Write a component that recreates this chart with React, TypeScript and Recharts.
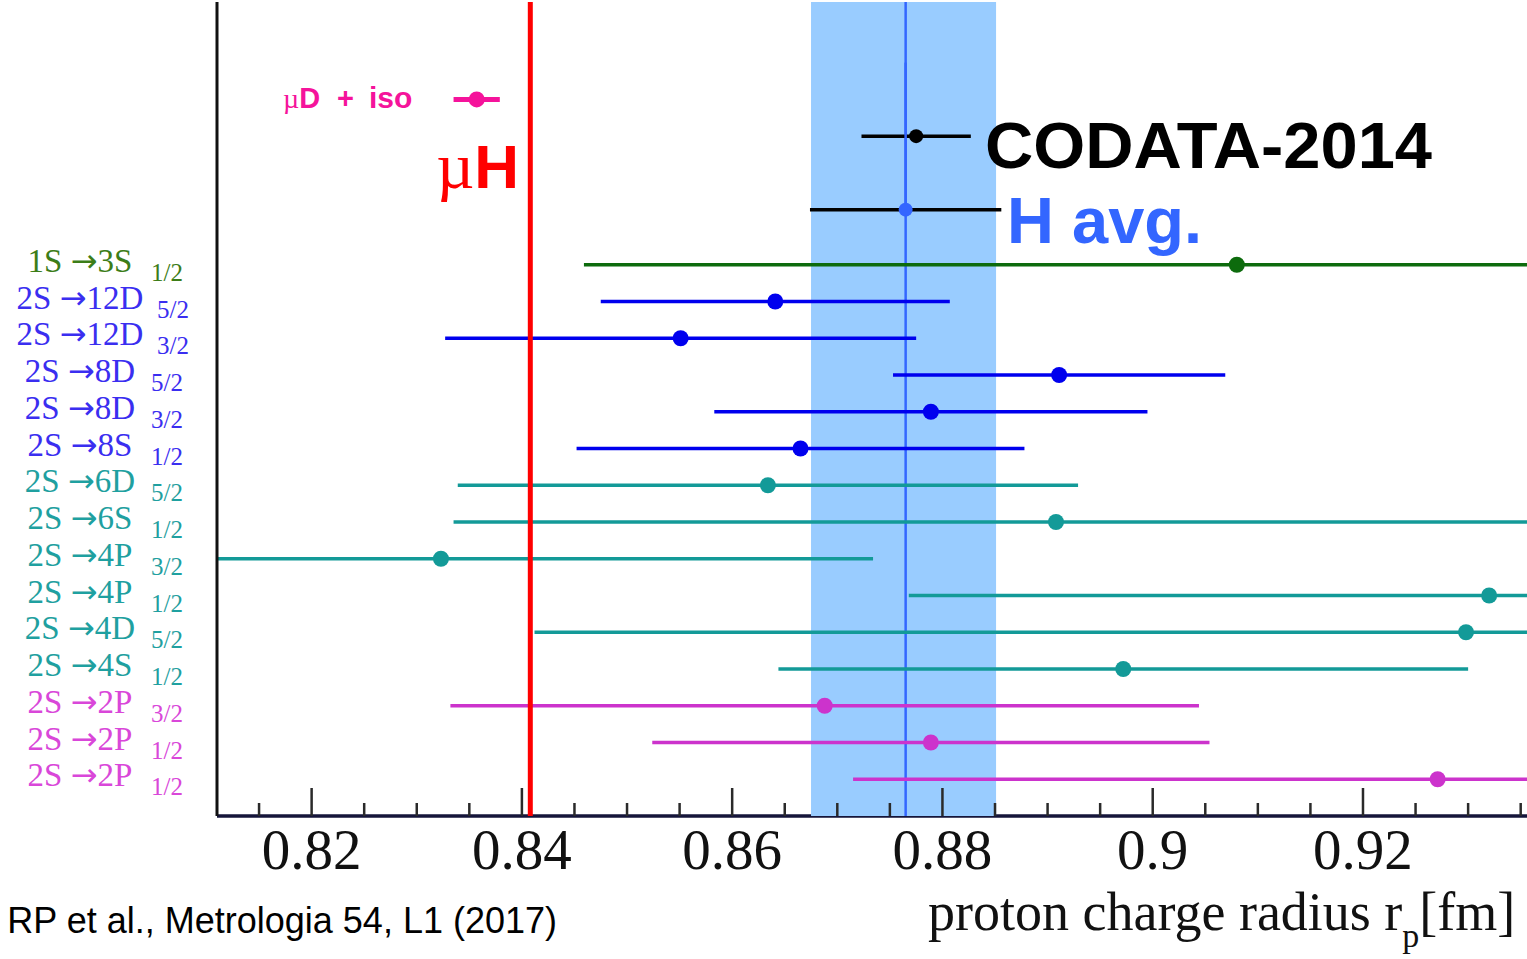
import React from "react";
import {
  ScatterChart,
  Scatter,
  XAxis,
  YAxis,
  ReferenceArea,
  ReferenceLine,
  Customized,
} from "recharts";

// hydrogen spectroscopy rows, top to bottom
const transitions = [
  "1S →3S", "2S →12D", "2S →12D", "2S →8D", "2S →8D", "2S →8S", "2S →6D", "2S →6S",
  "2S →4P", "2S →4P", "2S →4D", "2S →4S", "2S →2P", "2S →2P", "2S →2P",
];
const subLabels = ["1/2", "5/2", "3/2", "5/2", "3/2", "1/2", "5/2", "1/2", "3/2", "1/2", "5/2", "1/2", "3/2", "1/2", "1/2"];
const radii = [0.908, 0.8641, 0.8551, 0.8911, 0.8789, 0.8665, 0.8634, 0.8908, 0.8323, 0.932, 0.9298, 0.8972, 0.8688, 0.8789, 0.9271];
const sigmas = [0.0621, 0.0166, 0.0224, 0.0158, 0.0206, 0.0213, 0.0295, 0.0573, 0.0411, 0.0552, 0.0886, 0.0328, 0.0356, 0.0265, 0.0556];
const families = ["1S", "nD", "nD", "nD", "nD", "nD", "low", "low", "low", "low", "low", "low", "2P", "2P", "2P"];

// summary values
const codata = { r: 0.8775, err: 0.0052, row: -3.5 };
const hAvg = { r: 0.8765, err: 0.0091, row: -1.5 };
const muD = { r: 0.8357, err: 0.0022, row: -4.5 };
const muH = 0.8408;
const hBand = [0.8675, 0.8851];

const majorTicks = [0.82, 0.84, 0.86, 0.88, 0.9, 0.92];
const allTicks = [
  0.815, 0.82, 0.825, 0.83, 0.835, 0.84, 0.845, 0.85, 0.855, 0.86, 0.865, 0.87, 0.875,
  0.88, 0.885, 0.89, 0.895, 0.9, 0.905, 0.91, 0.915, 0.92, 0.925, 0.93, 0.935,
];
const rowTicks = [0, 1, 2, 3, 4, 5, 6, 7, 8, 9, 10, 11, 12, 13, 14];

const LINE_COLOR: Record<string, string> = { "1S": "#0d6b0d", nD: "#0000ee", low: "#139a98", "2P": "#cc33cc" };
const TEXT_COLOR: Record<string, string> = { "1S": "#3c7d18", nD: "#3a2ef0", low: "#1fa0a0", "2P": "#d947d9" };
const PINK = "#f5139b";
const BAND = "#99ccff";
const HBLUE = "#3366ff";

const SERIF = "'Liberation Serif', 'Times New Roman', serif";
const SANS = "'Liberation Sans', Arial, sans-serif";

const rows = transitions.map((t, i) => ({ r: radii[i], err: sigmas[i], row: i, fam: families[i] }));

const dot = (r: number, fill: string) => (p: any) => <circle cx={p.cx} cy={p.cy} r={r} fill={fill} />;

// horizontal error bar, clipped to the plot like the original
const errBar = (d: { r: number; err: number; row: number }, color: string, w: number, key: string) => (
  <ReferenceLine
    key={key}
    segment={[{ x: d.r - d.err, y: d.row }, { x: d.r + d.err, y: d.row }]}
    ifOverflow="hidden"
    stroke={color}
    strokeWidth={w}
    zIndex={20}
  />
);

const XTick = ({ x, y, payload }: any) => {
  const v = payload.value;
  const major = majorTicks.includes(v);
  return (
    <g>
      <line x1={x} x2={x} y1={y} y2={y - (major ? 28 : 13)} stroke="#2a2a2a" strokeWidth={2.5} />
      {major && (
        <text x={x} y={y + 53} textAnchor="middle" fontFamily={SERIF} fontSize={57} fill="#111">
          {String(v)}
        </text>
      )}
    </g>
  );
};

const YTick = ({ y, payload }: any) => {
  const i = payload.value;
  const main = transitions[i];
  if (!main) return null;
  const color = TEXT_COLOR[families[i]];
  const [from, to] = main.split("→");
  return (
    <g>
      <text x={80} y={y + 7} textAnchor="middle" fontFamily={SERIF} fontSize={33} fill={color}>
        {from}
        <tspan fontFamily="'DejaVu Sans', sans-serif" fontSize={32}>→</tspan>
        {to}
      </text>
      <text x={main.length > 6 ? 157 : 151} y={y + 16} fontFamily={SERIF} fontSize={25} fill={color}>
        {subLabels[i]}
      </text>
    </g>
  );
};

const Annotations = () => (
  <g>
    <text y={108} fill={PINK}>
      <tspan x={283} fontFamily={SERIF} fontSize={28}>µ</tspan>
      <tspan fontFamily={SANS} fontWeight="bold" fontSize={29}>D</tspan>
      <tspan x={337} fontFamily={SANS} fontWeight="bold" fontSize={29}>+</tspan>
      <tspan x={369} fontFamily={SANS} fontWeight="bold" fontSize={30}>iso</tspan>
    </text>
    <text x={519} y={188} textAnchor="end" fill="#ff0000">
      <tspan fontFamily={SERIF} fontSize={66}>µ</tspan>
      <tspan fontFamily={SANS} fontWeight="bold" fontSize={62}>H</tspan>
    </text>
    <text x={985} y={168} fontFamily={SANS} fontWeight="bold" fontSize={65} fill="#000" textLength={447} lengthAdjust="spacingAndGlyphs">
      CODATA-2014
    </text>
    <text x={1007} y={243} fontFamily={SANS} fontWeight="bold" fontSize={65} fill={HBLUE}>
      H avg.
    </text>
    <text x={928} y={930} fontFamily={SERIF} fontSize={54} fill="#111">
      proton charge radius r
      <tspan fontSize={34} dy={17}>p</tspan>
      <tspan dy={-17}>[fm]</tspan>
    </text>
    <text x={557} y={933} textAnchor="end" fontFamily={SANS} fontSize={36} fill="#000">
      RP et al., Metrologia 54, L1 (2017)
    </text>
  </g>
);

export default function App() {
  return (
    <div style={{ position: "absolute", left: 0, top: 0, width: 1527, height: 959, background: "#fff" }}>
      <ScatterChart width={1527} height={959} margin={{ top: 2, right: 0, bottom: 43, left: 216 }}>
        <XAxis
          type="number"
          dataKey="r"
          domain={[0.811, 0.9356]}
          allowDataOverflow
          ticks={allTicks}
          interval={0}
          tick={<XTick />}
          tickLine={false}
          tickSize={0}
          tickMargin={0}
          height={100}
          zIndex={-20}
          axisLine={{ stroke: "#15153a", strokeWidth: 3.5 }}
        />
        <YAxis
          type="number"
          dataKey="row"
          domain={[-7.15, 15]}
          reversed
          allowDataOverflow
          ticks={rowTicks}
          interval={0}
          tick={<YTick />}
          tickLine={false}
          tickSize={0}
          tickMargin={0}
          width={1}
          axisLine={{ stroke: "#111", strokeWidth: 3 }}
        />
        <ReferenceArea x1={hBand[0]} x2={hBand[1]} fill={BAND} fillOpacity={1} stroke="none" zIndex={-10} />
        <ReferenceLine x={hAvg.r} stroke={HBLUE} strokeWidth={2.5} zIndex={5} />

        {rows.map((d, i) => errBar(d, LINE_COLOR[d.fam], 3.5, `row-${i}`))}
        {errBar(hAvg, "#000", 3.5, "havg")}
        {errBar(codata, "#000", 3.5, "codata")}
        <ReferenceLine stroke={HBLUE} strokeWidth={2.5} zIndex={25} segment={[{ x: hAvg.r, y: codata.row - 2 }, { x: hAvg.r, y: hAvg.row }]} ifOverflow="hidden" />
        {errBar(muD, PINK, 5, "mud")}
        <ReferenceLine x={muH} stroke="#ff0000" strokeWidth={5} zIndex={30} />

        {["1S", "nD", "low", "2P"].map((fam) => (
          <Scatter
            key={fam}
            data={rows.filter((d) => d.fam === fam)}
            fill={LINE_COLOR[fam]}
            shape={dot(8, LINE_COLOR[fam])}
            isAnimationActive={false}
          />
        ))}
        <Scatter data={[codata]} fill="#000" shape={dot(7, "#000")} isAnimationActive={false} />
        <Scatter data={[hAvg]} fill={HBLUE} shape={dot(7, HBLUE)} isAnimationActive={false} />
        <Scatter data={[muD]} fill={PINK} shape={dot(8, PINK)} isAnimationActive={false} />
        <Customized component={<Annotations />} />
      </ScatterChart>
    </div>
  );
}
